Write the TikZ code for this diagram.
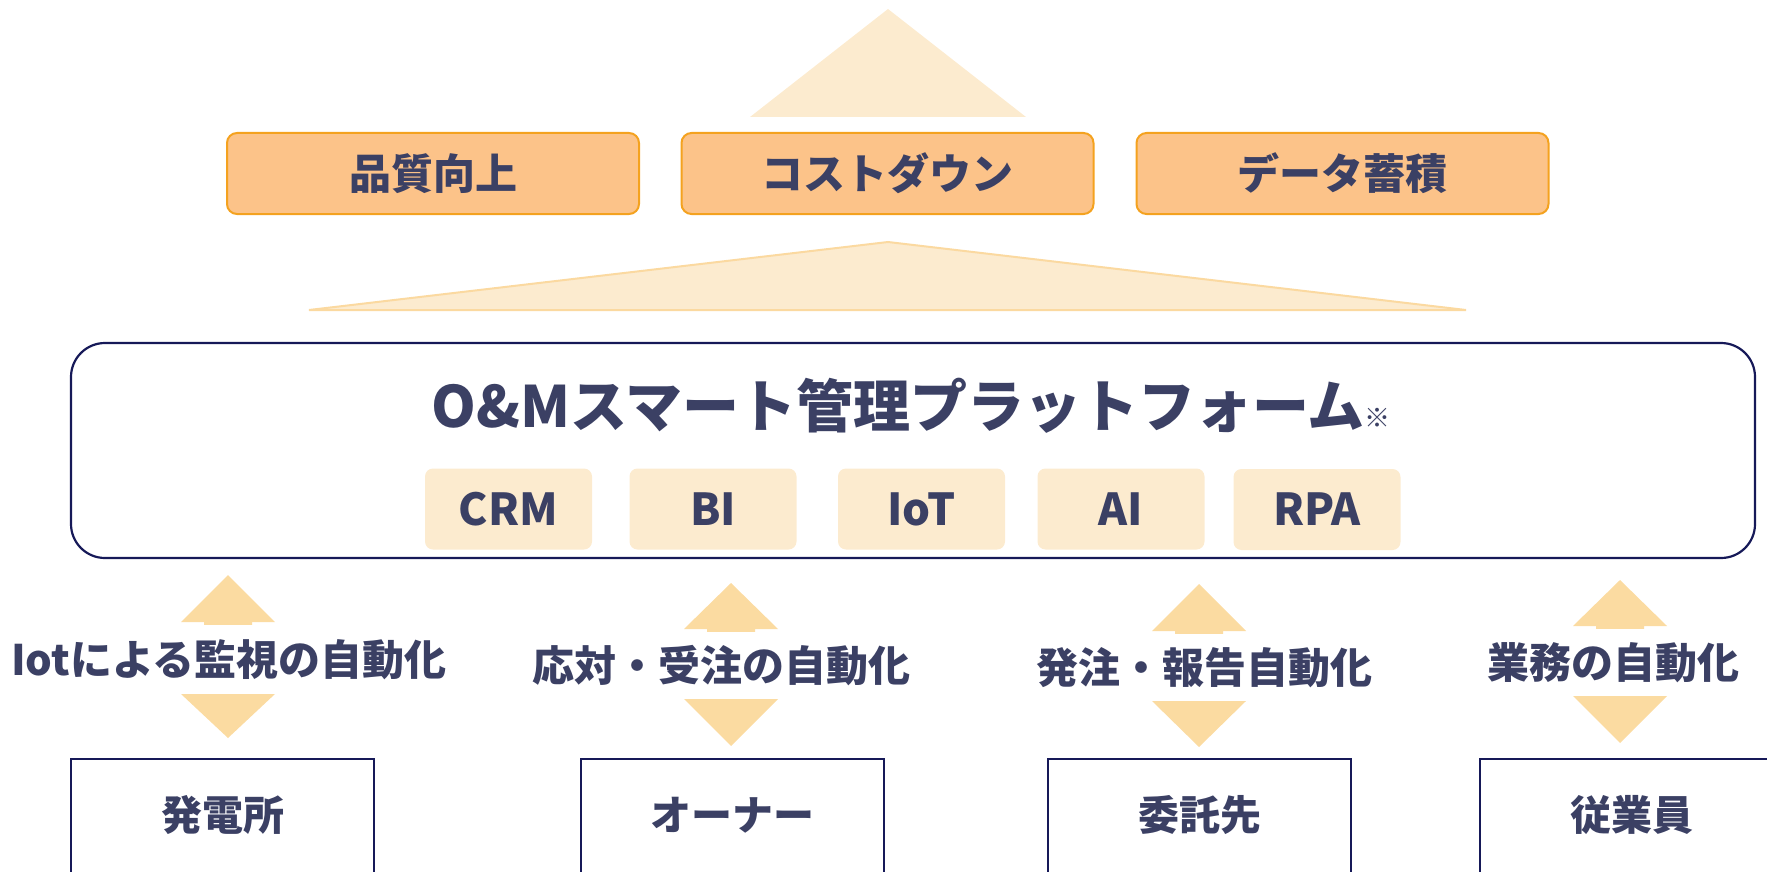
\documentclass[tikz,border=0pt]{standalone}
\usepackage{fontspec}
\setmainfont{Noto Sans CJK JP}
\usetikzlibrary{calc}
\definecolor{txt}{RGB}{59,64,100}
\definecolor{goalfill}{RGB}{252,195,137}
\definecolor{goalborder}{RGB}{244,162,31}
\definecolor{pale}{RGB}{252,235,207}
\definecolor{paleedge}{RGB}{251,217,160}
\definecolor{arrowfill}{RGB}{251,219,161}
\definecolor{navy}{RGB}{22,25,88}
\newcommand\fsz[1]{\fontsize{#1}{#1}\selectfont\bfseries}
\tikzset{
  goalbox/.style={draw=goalborder, fill=goalfill, line width=2pt, rounded corners=10pt,
    minimum width=412, minimum height=81, inner sep=0pt, font=\fsz{42}, text=txt},
  tagbox/.style={fill=pale, rounded corners=8pt, minimum width=167, minimum height=81,
    inner sep=0pt, font=\fsz{44}, text=txt},
  platform/.style={draw=navy, line width=2.2pt, rounded corners=34pt,
    minimum width=1684, minimum height=215, inner sep=0pt},
  partybox/.style={draw=navy, line width=2pt, minimum width=303, minimum height=160,
    inner sep=0pt, anchor=north},
  partytext/.style={font=\fsz{41}, text=txt, inner sep=0pt},
  flowlabel/.style={fill=white, font=\fsz{42}, text=txt, inner xsep=3pt, inner ysep=0pt},
  blockarrow/.style={fill=arrowfill, draw=none},
}
\begin{document}
\begin{tikzpicture}[x=1pt,y=-1pt]
\useasboundingbox (0,0) rectangle (1767,872);
\clip (0,0) rectangle (1767,872);

% top triangle
\fill[pale] (888,9) -- (1026,117) -- (750,117) -- cycle;

% goal boxes
\node[goalbox] (g1) at (433,173.5) {品質向上};
\node[goalbox] (g2) at (887.5,173.5) {コストダウン};
\node[goalbox] (g3) at (1342.5,173.5) {データ蓄積};

% wide triangle
\draw[draw=paleedge, fill=pale, line width=2pt, line join=miter] (888,242) -- (1466,310) -- (309,310) -- cycle;

% platform
\node[platform] (pf) at (913,450.5) {};
\node[font=\fsz{57}, text=txt, inner sep=0pt] (title) at (911,406)
  {O\&Mスマート管理プラットフォーム{\fontsize{26}{26}\selectfont ※}};

\node[tagbox] (t1) at (508.5,509) {CRM};
\node[tagbox] (t2) at (713,509) {BI};
\node[tagbox] (t3) at (921.5,509) {IoT};
\node[tagbox] (t4) at (1121,509) {AI};
\node[tagbox] (t5) at (1317,509.5) {RPA};

% block arrows
\newcommand\blockarr[5]{%
  \fill[arrowfill] (#1,#2) -- (#1+47,#3) -- (#1+24,#3) -- (#1+24,#4) -- (#1+47,#4)
    -- (#1,#5) -- (#1-47,#4) -- (#1-24,#4) -- (#1-24,#3) -- (#1-47,#3) -- cycle;}
\blockarr{228}{575}{622}{694}{738}
\blockarr{731}{583}{629}{699}{746}
\blockarr{1199}{584}{631}{701}{747}
\blockarr{1620}{580}{626}{696}{743}

\node[flowlabel, minimum height=69] (l1) at (229,659.5) {Iotによる監視の自動化};
\node[flowlabel, minimum height=67] (l2) at (721.5,665.5) {応対・受注の自動化};
\node[flowlabel, minimum height=67] (l3) at (1204,667.5) {発注・報告自動化};
\node[flowlabel, minimum height=67] (l4) at (1613,662.5) {業務の自動化};

% parties
\node[partybox] (p1) at (222.5,758) {};
\node[partybox] (p2) at (732,758) {};
\node[partybox] (p3) at (1199.5,758) {};
\node[partybox] (p4) at (1631.5,758) {};
\node[partytext] (p1t) at ($(p1.north)+(0,57)$) {発電所};
\node[partytext] (p2t) at ($(p2.north)+(0,57)$) {オーナー};
\node[partytext] (p3t) at ($(p3.north)+(0,57)$) {委託先};
\node[partytext] (p4t) at ($(p4.north)+(0,57)$) {従業員};
\end{tikzpicture}
\end{document}
